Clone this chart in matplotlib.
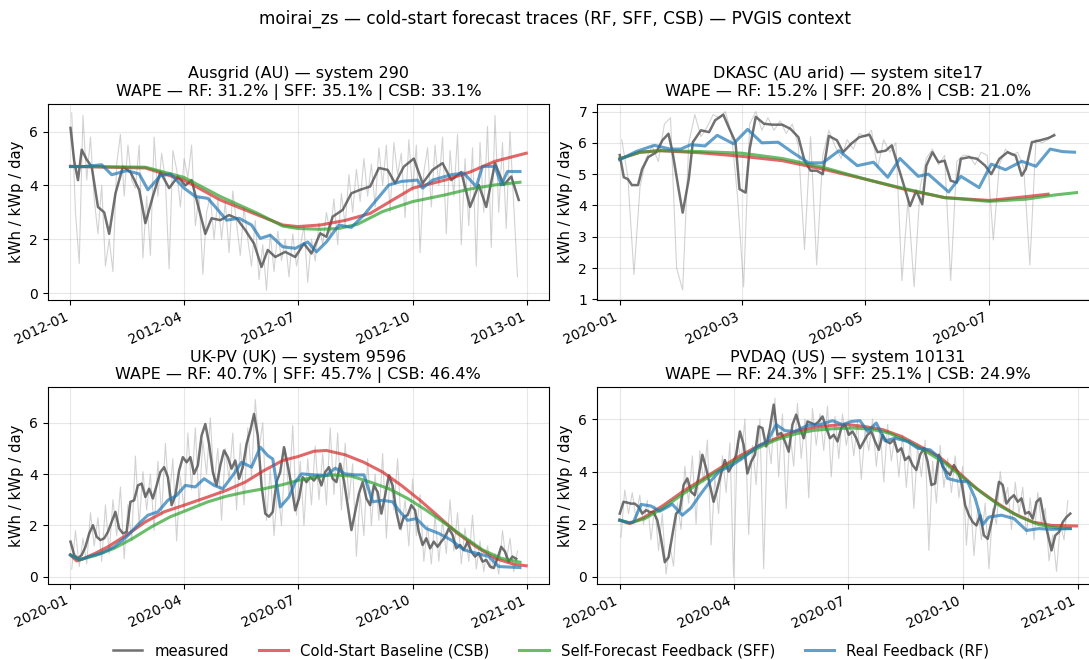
import numpy as np
import matplotlib
matplotlib.use("Agg")
import matplotlib.pyplot as plt
import matplotlib.dates as mdates

#%% DATA (days since start of trace, kWh / kWp / day)

# --- Ausgrid (AU) system 290, 2012 ---
p1_daily = [6.7, 3.0, 1.1, 6.6, 4.2, 5.8, 3.5, 2.2, 4.0, 1.0, 2.0, 0.8, 4.8, 5.9, 3.6, 5.5, 4.2, 3.9, 5.5, 1.3,
            3.6, 1.4, 5.8, 3.6, 5.2, 4.2, 0.9, 5.3, 4.6, 3.2, 5.0, 4.3, 5.5, 2.5, 3.6, 0.7, 3.0, 3.6, 2.0, 3.5,
            2.0, 3.4, 1.5, 3.8, 2.6, 1.4, 3.2, 2.0, 1.0, 2.7, 0.5, 1.8, 0.1, 2.2, 0.8, 2.3, 1.2, 2.0, 0.6, 2.2,
            1.0, 1.7, 2.5, 0.4, 2.0, 1.2, 2.6, 1.8, 3.0, 2.2, 3.5, 1.8, 3.7, 2.5, 4.4, 3.0, 4.6, 3.4, 5.0, 3.6,
            4.8, 3.2, 5.4, 4.0, 5.5, 3.0, 5.6, 4.4, 5.2, 2.8, 5.7, 3.8, 5.5, 1.5, 4.5, 5.4, 3.2, 5.5, 4.0, 5.8,
            2.2, 5.3, 3.6, 5.9, 1.8, 5.0, 2.5, 5.4, 1.0, 5.6, 3.0, 6.2, 1.7, 6.6, 3.0, 5.6, 2.4, 6.0, 3.3, 0.6]
p1_daily_days = list(range(1, 1 + 3 * len(p1_daily), 3))
p1_meas_days = [0, 3, 6, 9, 13, 17, 22, 27, 31, 36, 42, 48, 55, 60, 66, 72, 79, 86, 92, 97, 103, 108, 113, 120,
                127, 133, 140, 147, 153, 158, 164, 172, 180, 187, 193, 200, 205, 210, 218, 225, 232, 240, 247,
                254, 260, 267, 275, 282, 290, 298, 305, 313, 320, 327, 333, 340, 347, 353, 359]
p1_meas = [6.14, 4.9, 4.2, 5.33, 4.96, 4.7, 3.2, 3.0, 2.2, 3.7, 4.7, 4.5, 3.84, 2.6, 3.6, 4.5, 3.9, 4.33, 4.0,
           4.2, 3.1, 2.2, 2.78, 2.71, 2.9, 2.78, 2.34, 1.84, 0.97, 1.6, 1.34, 1.53, 1.34, 1.84, 1.47, 2.22, 2.09,
           2.84, 3.09, 3.71, 3.84, 3.96, 4.65, 4.58, 4.08, 4.7, 5.0, 4.08, 4.58, 4.83, 4.2, 4.5, 3.2, 4.02, 3.2,
           4.83, 4.02, 4.33, 3.46]
p1_csb_days = [0, 60, 91, 120, 150, 170, 182, 200, 220, 240, 274, 300, 320, 340, 365]
p1_csb = [4.71, 4.65, 4.2, 3.46, 2.9, 2.53, 2.47, 2.53, 2.7, 2.96, 3.9, 4.2, 4.5, 4.9, 5.2]
p1_sff_days = [0, 60, 91, 120, 150, 170, 182, 200, 215, 230, 250, 274, 300, 320, 340, 360]
p1_sff = [4.71, 4.68, 4.3, 3.59, 2.96, 2.49, 2.4, 2.37, 2.4, 2.56, 3.03, 3.4, 3.65, 3.87, 4.02, 4.12]
p1_rf_days = [0, 10, 25, 33, 45, 55, 62, 72, 80, 91, 100, 110, 117, 125, 135, 145, 152, 160, 170, 180, 190,
              197, 205, 215, 225, 235, 245, 255, 265, 278, 282, 290, 305, 315, 325, 330, 340, 345, 350, 360]
p1_rf = [4.7, 4.7, 4.77, 4.4, 4.55, 4.43, 3.84, 4.36, 4.43, 3.9, 3.59, 3.52, 3.15, 2.71, 2.78, 2.53, 2.03, 2.15,
         1.72, 1.66, 1.9, 1.53, 1.9, 2.53, 2.44, 2.9, 3.46, 4.02, 4.15, 4.2, 3.9, 4.2, 4.4, 4.46, 3.96, 4.71,
         4.71, 4.02, 4.52, 4.52]

# --- DKASC (AU arid) site17, 2020 Jan-Aug ---
p2_daily = [6.1, 4.9, 1.8, 4.6, 5.5, 5.9, 5.4, 6.6, 6.8, 2.0, 1.3, 6.0, 6.9, 6.2, 6.5, 6.9, 6.8, 7.0, 6.3, 4.3,
            1.4, 6.6, 7.0, 6.4, 6.8, 6.4, 6.7, 6.3, 6.6, 5.9, 2.6, 6.2, 2.1, 5.6, 6.4, 5.9, 5.5, 6.1, 5.8, 6.3,
            6.2, 6.4, 5.2, 6.1, 5.7, 6.0, 1.6, 4.2, 1.4, 4.6, 5.5, 5.8, 5.3, 5.6, 1.6, 5.4, 5.6, 5.6, 5.3, 5.7,
            5.6, 2.9, 5.3, 5.8, 5.6, 5.7, 5.2, 2.1, 6.1, 6.0, 6.1, 6.3]
p2_daily_days = list(range(1, 1 + 3 * len(p2_daily), 3))
p2_meas_days = [0, 2, 4, 6, 9, 11, 14, 18, 21, 24, 26, 29, 31, 34, 36, 40, 44, 47, 51, 54, 57, 59, 62, 64, 67,
                71, 75, 80, 84, 88, 91, 94, 97, 100, 103, 107, 110, 114, 118, 123, 127, 131, 134, 137, 140, 143,
                146, 149, 151, 154, 157, 160, 163, 166, 168, 172, 176, 180, 183, 187, 191, 195, 198, 200, 203,
                207, 211, 214]
p2_meas = [5.61, 4.9, 4.84, 4.65, 4.65, 5.16, 5.54, 5.7, 6.08, 6.29, 5.7, 4.52, 3.77, 4.84, 6.02, 6.4, 6.34,
           6.72, 6.9, 6.45, 6.02, 4.52, 4.41, 5.81, 6.83, 6.61, 6.58, 6.58, 6.45, 6.18, 5.43, 5.11, 5.11, 5.0,
           6.22, 6.08, 5.7, 5.97, 6.18, 6.26, 5.7, 5.75, 5.92, 5.27, 4.63, 3.98, 4.47, 4.04, 5.27, 5.7, 5.38,
           5.43, 4.79, 4.73, 5.49, 5.54, 5.49, 5.27, 5.0, 5.49, 5.7, 5.59, 4.95, 5.16, 6.02, 6.08, 6.15, 6.24]
p2_csb_days = [0, 10, 20, 40, 60, 80, 100, 121, 140, 160, 182, 200, 211]
p2_csb = [5.49, 5.7, 5.75, 5.68, 5.57, 5.43, 5.16, 4.84, 4.52, 4.25, 4.16, 4.28, 4.36]
p2_sff_days = [0, 10, 20, 40, 60, 80, 100, 121, 140, 160, 182, 200, 215, 225]
p2_sff = [5.49, 5.7, 5.75, 5.72, 5.67, 5.5, 5.22, 4.84, 4.54, 4.25, 4.13, 4.2, 4.34, 4.41]
p2_rf_days = [0, 8, 17, 25, 30, 35, 42, 48, 56, 63, 70, 78, 85, 93, 100, 108, 117, 125, 132, 138, 147, 152,
              162, 168, 177, 183, 190, 198, 205, 212, 218, 224]
p2_rf = [5.46, 5.72, 5.92, 5.8, 5.8, 5.94, 5.9, 6.24, 5.97, 6.43, 6.0, 6.02, 5.7, 5.36, 5.36, 5.75, 5.27, 5.38,
         4.9, 5.5, 4.93, 5.0, 4.43, 4.93, 4.57, 5.32, 5.14, 5.41, 5.25, 5.8, 5.72, 5.7]

# --- UK-PV (UK) system 9596, 2020 ---
p3_daily = [0.3, 1.8, 0.4, 1.5, 0.5, 2.5, 1.2, 2.3, 0.6, 2.8, 0.9, 3.0, 1.6, 3.5, 0.7, 2.8, 1.4, 4.7, 2.0, 4.1,
            2.6, 4.0, 1.8, 4.5, 2.4, 5.2, 3.0, 4.6, 1.4, 3.9, 2.6, 5.6, 3.4, 5.8, 2.8, 5.3, 4.0, 6.2, 3.6, 5.0,
            2.2, 5.0, 3.8, 5.6, 2.6, 5.2, 2.8, 5.8, 3.9, 6.9, 5.0, 6.0, 2.2, 4.2, 1.6, 3.5, 2.0, 5.0, 3.2, 5.9,
            2.4, 4.5, 2.0, 4.6, 2.8, 5.1, 3.0, 4.8, 2.8, 5.8, 3.2, 5.6, 2.6, 5.2, 3.0, 4.4, 0.8, 3.2, 1.6, 4.6,
            2.0, 4.0, 2.2, 4.8, 1.5, 4.0, 2.6, 4.6, 1.8, 3.0, 1.2, 3.8, 1.6, 3.2, 0.6, 2.0, 0.5, 2.4, 0.6, 2.2,
            0.9, 3.0, 1.0, 2.5, 0.5, 1.9, 0.6, 2.4, 0.3, 1.4, 0.2, 1.2, 0.3, 0.9, 0.1, 1.8, 0.6, 1.5, 0.2, 1.0]
p3_daily_days = list(range(1, 1 + 3 * len(p3_daily), 3))
p3_meas = [1.37, 0.85, 0.72, 0.85, 1.17, 1.69, 2.01, 1.56, 1.43, 1.5, 1.75, 2.14, 2.53, 1.88, 1.69, 1.75, 2.92,
           2.98, 3.56, 3.63, 3.11, 3.43, 3.05, 3.56, 4.08, 4.27, 3.88, 2.79, 3.17, 4.14, 4.66, 4.46, 4.66, 4.01,
           4.34, 5.5, 5.95, 5.17, 4.08, 3.56, 4.34, 4.92, 4.66, 4.21, 4.53, 3.82, 4.27, 5.17, 5.69, 6.34, 5.5,
           3.56, 2.46, 2.34, 2.53, 3.69, 4.08, 5.05, 4.34, 3.56, 2.59, 3.05, 3.88, 3.69, 3.88, 3.75, 3.95, 3.56,
           4.08, 4.27, 3.82, 3.69, 4.4, 3.75, 2.79, 1.82, 2.53, 3.24, 3.69, 3.05, 2.79, 3.56, 3.3, 2.46, 3.17,
           3.95, 3.56, 2.53, 1.88, 2.34, 2.4, 2.79, 2.59, 1.75, 1.24, 1.5, 1.11, 1.37, 1.17, 1.37, 1.56, 1.88,
           1.63, 1.11, 1.24, 1.05, 1.37, 0.98, 0.79, 0.92, 0.59, 0.66, 0.4, 0.34, 0.72, 1.17, 0.98, 0.59, 0.79,
           0.7]
p3_meas_days = list(range(0, 3 * len(p3_meas), 3))
p3_csb_days = [0, 5, 10, 20, 30, 45, 60, 75, 91, 110, 125, 140, 155, 170, 182, 195, 205, 220, 235, 250, 265,
               280, 295, 310, 325, 340, 355, 365]
p3_csb = [0.85, 0.62, 0.7, 0.92, 1.17, 1.63, 2.14, 2.53, 2.79, 3.11, 3.37, 3.69, 4.14, 4.53, 4.68, 4.89, 4.92,
          4.75, 4.46, 4.08, 3.56, 2.98, 2.34, 1.69, 1.17, 0.72, 0.49, 0.43]
p3_sff_days = [0, 7, 20, 35, 50, 65, 80, 91, 110, 125, 140, 155, 170, 182, 195, 210, 225, 240, 255, 270, 285,
               300, 315, 330, 345, 360]
p3_sff = [0.85, 0.66, 0.83, 1.11, 1.5, 1.95, 2.34, 2.55, 2.92, 3.14, 3.3, 3.43, 3.59, 3.75, 3.88, 3.97, 3.92,
          3.69, 3.43, 3.05, 2.59, 2.08, 1.56, 1.05, 0.72, 0.57]
p3_rf_days = [0, 7, 15, 25, 35, 45, 55, 62, 70, 78, 85, 92, 100, 107, 115, 122, 130, 137, 145, 152, 158, 162,
              168, 175, 180, 185, 195, 205, 212, 220, 228, 235, 242, 250, 258, 263, 270, 277, 285, 295, 305,
              315, 325, 335, 343, 360]
p3_rf = [0.85, 0.66, 0.79, 0.92, 1.17, 1.56, 2.08, 2.4, 2.53, 2.98, 3.17, 3.56, 3.5, 3.82, 3.56, 3.43, 3.95,
         4.46, 4.27, 5.05, 4.72, 4.59, 2.72, 3.11, 3.69, 4.01, 3.97, 3.95, 4.23, 4.01, 3.97, 3.97, 2.92, 2.98,
         2.92, 2.59, 2.2, 2.27, 1.88, 1.69, 1.43, 1.05, 0.92, 0.79, 0.4, 0.36]

# --- PVDAQ (US) system 10131, 2020 ---
p4_daily = [1.5, 3.3, 2.4, 3.2, 2.2, 3.1, 2.0, 2.9, 1.4, 2.7, 1.0, 2.4, 0.1, 1.2, 0.4, 2.8, 1.8, 4.2, 2.8, 4.6,
            2.0, 4.8, 3.6, 5.2, 1.2, 3.8, 2.4, 4.6, 3.2, 5.1, 0.0, 5.2, 4.4, 6.0, 1.6, 5.0, 3.5, 6.0, 0.3, 5.4,
            4.3, 6.8, 3.8, 6.2, 2.6, 5.5, 4.2, 6.6, 4.5, 6.0, 3.0, 6.4, 5.0, 6.2, 4.8, 6.5, 3.8, 6.1, 4.5, 6.2,
            5.0, 5.8, 4.6, 5.9, 3.7, 5.6, 4.8, 6.0, 4.2, 5.6, 3.6, 5.8, 4.4, 5.4, 3.8, 5.4, 3.4, 5.2, 2.6, 5.0,
            3.8, 5.2, 1.0, 4.4, 2.8, 5.0, 3.4, 4.5, 3.2, 4.6, 3.0, 4.2, 1.2, 3.2, 0.8, 2.6, 1.4, 2.8, 0.3, 2.6,
            2.0, 4.0, 2.8, 3.4, 1.8, 3.6, 2.4, 3.4, 1.6, 3.0, 1.4, 3.2, 2.0, 2.6, 0.6, 1.6, 0.2, 2.0, 1.4, 2.9]
p4_daily_days = list(range(1, 1 + 3 * len(p4_daily), 3))
p4_meas = [2.4, 2.85, 2.82, 2.78, 2.78, 2.66, 2.4, 2.53, 2.46, 2.46, 2.15, 1.44, 0.55, 0.74, 1.57, 2.4, 2.53,
           3.49, 3.74, 3.23, 3.1, 3.81, 4.64, 4.13, 3.49, 2.85, 3.36, 3.93, 4.44, 4.0, 4.25, 4.64, 5.53, 5.02,
           3.93, 4.38, 4.64, 5.72, 5.66, 4.96, 5.66, 6.55, 5.4, 5.47, 5.15, 4.76, 5.79, 6.17, 5.66, 5.27, 5.91,
           5.85, 5.79, 5.91, 6.1, 5.66, 5.27, 5.4, 5.15, 5.66, 5.79, 5.4, 5.53, 5.27, 4.89, 5.15, 5.4, 5.53, 5.15,
           4.83, 5.4, 5.15, 5.08, 5.21, 4.76, 4.89, 4.44, 4.57, 4.25, 4.06, 4.64, 4.89, 4.38, 3.49, 3.55, 4.64,
           4.19, 4.0, 3.87, 4.25, 4.0, 3.61, 2.72, 2.34, 2.08, 1.95, 2.34, 1.57, 1.44, 2.08, 2.72, 3.61, 3.49,
           2.78, 2.98, 3.1, 2.85, 2.98, 2.4, 2.46, 2.21, 2.85, 2.98, 2.21, 1.63, 1.0, 1.57, 1.7, 2.08, 2.27, 2.4]
p4_meas_days = list(range(0, 3 * len(p4_meas), 3))
p4_csb_days = [0, 8, 20, 35, 50, 65, 80, 95, 110, 125, 140, 155, 170, 182, 195, 210, 225, 240, 255, 270, 285,
               300, 315, 330, 345, 365]
p4_csb = [2.15, 2.02, 2.27, 2.72, 3.23, 3.68, 4.13, 4.57, 4.96, 5.27, 5.53, 5.68, 5.76, 5.79, 5.72, 5.6, 5.34,
          4.96, 4.57, 4.0, 3.36, 2.85, 2.4, 2.08, 1.95, 1.93]
p4_sff_days = [0, 8, 20, 35, 50, 65, 80, 95, 110, 125, 140, 155, 170, 185, 200, 215, 230, 245, 260, 275, 290,
               305, 320, 335, 350, 360]
p4_sff = [2.15, 2.04, 2.21, 2.62, 3.13, 3.61, 4.06, 4.48, 4.89, 5.21, 5.43, 5.57, 5.63, 5.66, 5.62, 5.47, 5.15,
          4.76, 4.32, 3.74, 3.17, 2.66, 2.27, 1.98, 1.85, 1.83]
p4_rf_days = [0, 7, 11, 17, 25, 32, 42, 50, 57, 65, 72, 80, 90, 100, 110, 118, 125, 132, 140, 150, 160, 170,
              178, 185, 192, 198, 205, 212, 220, 230, 238, 248, 256, 262, 270, 278, 284, 290, 295, 305, 315,
              325, 335, 345, 360]
p4_rf = [2.15, 2.06, 2.08, 2.75, 2.69, 2.49, 2.76, 2.34, 2.62, 3.17, 3.61, 4.02, 4.25, 4.57, 4.96, 5.15, 5.79,
         5.56, 5.53, 5.76, 5.79, 5.94, 5.79, 5.91, 5.94, 5.53, 5.85, 5.17, 5.27, 5.15, 4.89, 4.83, 4.51, 3.74,
         3.64, 3.61, 2.98, 1.98, 2.27, 2.34, 2.21, 1.76, 1.83, 1.8, 1.83]

titles = ["Ausgrid (AU) — system 290\nWAPE — RF: 31.2% | SFF: 35.1% | CSB: 33.1%",
          "DKASC (AU arid) — system site17\nWAPE — RF: 15.2% | SFF: 20.8% | CSB: 21.0%",
          "UK-PV (UK) — system 9596\nWAPE — RF: 40.7% | SFF: 45.7% | CSB: 46.4%",
          "PVDAQ (US) — system 10131\nWAPE — RF: 24.3% | SFF: 25.1% | CSB: 24.9%"]
starts = ["2012-01-01", "2020-01-01", "2020-01-01", "2020-01-01"]


def to_dates(start, days):
    return np.datetime64(start) + np.array(days).astype("timedelta64[D]")


panels = [
    (p1_daily_days, p1_daily, p1_meas_days, p1_meas, p1_csb_days, p1_csb, p1_sff_days, p1_sff, p1_rf_days, p1_rf),
    (p2_daily_days, p2_daily, p2_meas_days, p2_meas, p2_csb_days, p2_csb, p2_sff_days, p2_sff, p2_rf_days, p2_rf),
    (p3_daily_days, p3_daily, p3_meas_days, p3_meas, p3_csb_days, p3_csb, p3_sff_days, p3_sff, p3_rf_days, p3_rf),
    (p4_daily_days, p4_daily, p4_meas_days, p4_meas, p4_csb_days, p4_csb, p4_sff_days, p4_sff, p4_rf_days, p4_rf),
]

#%% FIGURE
W, H = 1089, 660
fig = plt.figure(figsize=(W / 100, H / 100), dpi=100)

# axes boxes in pixels (left, bottom, right, top); right column runs past the canvas edge
boxes = [(47.7, 300, 549, 104), (596.9, 300, 1099.4, 104),
         (47.7, 583.5, 549, 387.3), (596.9, 584, 1099.4, 387.3)]
ylims = [(-0.26, 7.03), (0.98, 7.24), (-0.26, 7.38), (-0.28, 7.21)]
month_ticks = [[1, 4, 7, 10], [1, 3, 5, 7], [1, 4, 7, 10], [1, 4, 7, 10]]

for i, (dd, dv, md, mv, cd, cv, sd, sv, rd, rv) in enumerate(panels):
    l, b, r, t = boxes[i]
    ax = fig.add_axes([l / W, (H - b) / H, (r - l) / W, (b - t) / H])
    s = starts[i]
    ax.plot(to_dates(s, dd), dv, color="0.5", alpha=0.35, lw=0.8)
    ax.plot(to_dates(s, md), mv, color="0.3", alpha=0.8, lw=1.8, label="measured")
    ax.plot(to_dates(s, cd), cv, color="tab:red", alpha=0.7, lw=2.2, label="Cold-Start Baseline (CSB)")
    ax.plot(to_dates(s, sd), sv, color="tab:green", alpha=0.7, lw=2.2, label="Self-Forecast Feedback (SFF)")
    ax.plot(to_dates(s, rd), rv, color="tab:blue", alpha=0.7, lw=2.2, label="Real Feedback (RF)")
    ax.set_ylim(*ylims[i])
    ax.set_title(titles[i], fontsize=11.5)
    ax.set_ylabel("kWh / kWp / day", fontsize=10.7)
    ax.grid(True, alpha=0.3)
    ax.xaxis.set_major_locator(mdates.MonthLocator(bymonth=month_ticks[i]))
    ax.xaxis.set_major_formatter(mdates.DateFormatter("%Y-%m"))
    ax.tick_params(labelsize=10)
    for lab in ax.get_xticklabels():
        lab.set_rotation(25)
        lab.set_ha("right")
    if i == 0:
        handles, labels = ax.get_legend_handles_labels()

fig.suptitle("moirai_zs — cold-start forecast traces (RF, SFF, CSB) — PVGIS context", fontsize=12.2,
             x=0.51, y=0.985)
fig.legend(handles, labels, loc="lower center", ncol=4, frameon=False, fontsize=10.7,
           bbox_to_anchor=(0.506, -0.018))

fig.savefig("out.png", dpi=100)
